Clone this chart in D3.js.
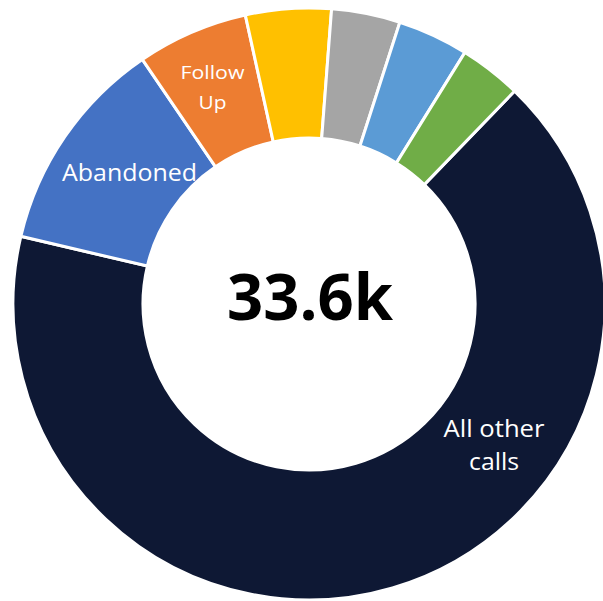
<!DOCTYPE html>
<html>
<head>
<meta charset="utf-8">
<script src="https://cdn.jsdelivr.net/npm/d3@7"></script>
<style>
  html, body { margin: 0; padding: 0; background: #ffffff; }
  svg { display: block; }
</style>
</head>
<body>
<svg id="chart" width="603" height="601"></svg>
<script>
// ---- data (in thousands of calls) ----
const categories = ["All other calls", "Abandoned", "Follow Up", "Category 4", "Category 5", "Category 6", "Category 7"];
const values = [22.34, 3.97, 2.04, 1.57, 1.26, 1.30, 1.14];
const colors = ["#0e1834", "#4472c4", "#ed7d31", "#ffc000", "#a5a5a5", "#5b9bd5", "#70ad47"];
const labelLines = [["All other", "calls"], ["Abandoned"], ["Follow", "Up"], [], [], [], []];
const totalLabel = "33.6k";

// ---- layout ----
const cx = 309, cy = 304;
const outerR = 296, innerR = 166;
const firstSliceDeg = 44;

const svg = d3.select("#chart");
const g = svg.append("g").attr("transform", `translate(${cx},${cy})`);

const startA = firstSliceDeg * Math.PI / 180;
const pie = d3.pie().sort(null).value(d => d.v)
  .startAngle(startA).endAngle(startA + 2 * Math.PI);
const data = categories.map((c, i) => ({ c, v: values[i], color: colors[i], lines: labelLines[i] }));
const arcs = pie(data);

const arc = d3.arc().innerRadius(innerR).outerRadius(outerR);

g.selectAll("path.slice")
  .data(arcs)
  .join("path")
  .attr("class", "slice")
  .attr("d", arc)
  .attr("fill", d => d.data.color)
  .attr("stroke", "#ffffff")
  .attr("stroke-width", 3)
  .attr("stroke-linejoin", "miter");

// label placement style per label (size, line spacing, widths, manual offset for the large slice)
const labelStyle = {
  "All other calls": { size: 24, lh: 33, widths: [101, 50], pos: [185, 141] },
  "Abandoned": { size: 24, lh: 30, widths: [135], dy: -1, dx: 11 },
  "Follow Up": { size: 19, lh: 30, widths: [64, 28], dx: -5, dy: -5 }
};

const midR = (innerR + outerR) / 2;
const labelArc = d3.arc().innerRadius(midR).outerRadius(midR);

arcs.forEach(a => {
  const lines = a.data.lines;
  if (!lines.length) return;
  const st = labelStyle[a.data.c];
  let [x, y] = labelArc.centroid(a);
  if (st.pos) { x = st.pos[0]; y = st.pos[1]; }
  x += st.dx || 0; y += st.dy || 0;
  const n = lines.length;
  const capH = st.size * 0.714;
  lines.forEach((ln, i) => {
    const baseline = y + capH / 2 + (i - (n - 1) / 2) * st.lh;
    g.append("text")
      .attr("x", x)
      .attr("y", baseline)
      .attr("text-anchor", "middle")
      .attr("font-family", "'Open Sans', 'Noto Sans', sans-serif")
      .attr("font-size", st.size)
      .attr("fill", "#ffffff")
      .attr("textLength", st.widths[i])
      .attr("lengthAdjust", "spacingAndGlyphs")
      .text(ln);
  });
});

// center total
g.append("text")
  .attr("x", 1)
  .attr("y", 16)
  .attr("text-anchor", "middle")
  .attr("font-family", "'Open Sans', 'Noto Sans', sans-serif")
  .attr("font-weight", "bold")
  .attr("font-size", 64)
  .attr("fill", "#000000")
  .attr("textLength", 166)
  .attr("lengthAdjust", "spacingAndGlyphs")
  .text(totalLabel);
</script>
</body>
</html>
